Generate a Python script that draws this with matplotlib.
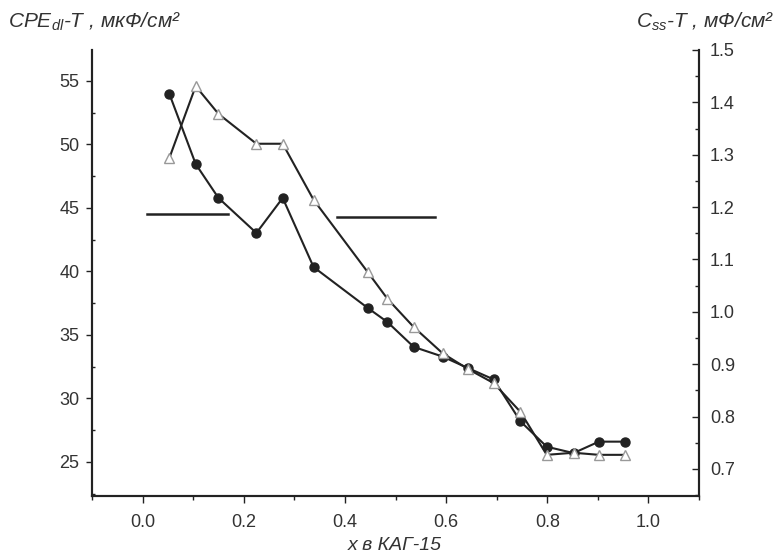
import numpy as np
import matplotlib
matplotlib.use("Agg")
import matplotlib.pyplot as plt
from matplotlib.ticker import MultipleLocator

plt.rcParams['font.family'] = ['Liberation Sans', 'DejaVu Sans']
plt.rcParams['mathtext.fontset'] = 'custom'
plt.rcParams['mathtext.rm'] = 'Liberation Sans'
plt.rcParams['mathtext.it'] = 'Liberation Sans:italic'

# x composition in KAG-15
x_vals = [0.053, 0.105, 0.150, 0.225, 0.277, 0.338, 0.445, 0.484, 0.536,
          0.593, 0.643, 0.694, 0.747, 0.799, 0.852, 0.902, 0.953]
# CPE_dl-T, mkF/cm2 (left axis, filled circles)
cpe_vals = [53.98, 48.46, 45.79, 43.03, 45.79, 40.35, 37.13, 36.02, 34.06,
            33.3, 32.4, 31.5, 28.2, 26.2, 25.7, 26.6, 26.6]
# C_ss-T, mF/cm2 (right axis, open triangles)
css_vals = [1.294, 1.431, 1.378, 1.321, 1.321, 1.214, 1.076, 1.025, 0.971,
            0.921, 0.891, 0.864, 0.809, 0.727, 0.731, 0.727, 0.727]

# guide lines pointing to each axis (x start, x end, y on left axis)
guide_left = (0.008, 0.168, 44.55)
guide_right = (0.384, 0.579, 44.3)

ink = '#222222'
txt = '#333333'

fig = plt.figure(figsize=(7.78, 5.6), dpi=100)
ax = fig.add_axes([92/778, 1-496/560, 607/778, 446/560])
ax2 = ax.twinx()

ax.plot(x_vals, cpe_vals, color=ink, lw=1.5, marker='o', ms=6.5,
        mfc=ink, mec=ink, zorder=3)
ax2.plot(x_vals, css_vals, color=ink, lw=1.5, marker='^', ms=6.5,
         mfc='white', mec='#999999', mew=1.0, zorder=4)

ax.plot(guide_left[:2], [guide_left[2]]*2, color=ink, lw=1.8)
ax.plot(guide_right[:2], [guide_right[2]]*2, color=ink, lw=1.8)

ax.set_xlim(-0.1, 1.1)
ax.set_ylim(22.32, 57.44)
ax2.set_ylim(0.6484, 1.5)

ax.xaxis.set_major_locator(MultipleLocator(0.2))
ax.xaxis.set_minor_locator(MultipleLocator(0.1))
ax.yaxis.set_major_locator(MultipleLocator(5))
ax.yaxis.set_minor_locator(MultipleLocator(2.5))
ax2.yaxis.set_major_locator(MultipleLocator(0.1))
ax2.yaxis.set_minor_locator(MultipleLocator(0.05))
ax.set_xticks([0.0, 0.2, 0.4, 0.6, 0.8, 1.0])
ax.set_xticklabels(['0.0', '0.2', '0.4', '0.6', '0.8', '1.0'])
ax.set_yticks([25, 30, 35, 40, 45, 50, 55])
ax2.set_yticks([0.7, 0.8, 0.9, 1.0, 1.1, 1.2, 1.3, 1.4, 1.5])

for a in (ax, ax2):
    a.spines['top'].set_visible(False)
    for s in a.spines.values():
        s.set_color(ink)
        s.set_linewidth(1.5)

ax.tick_params(axis='x', which='major', direction='out', length=5, width=1,
               pad=8, labelsize=13, colors=ink, labelcolor=txt)
ax.tick_params(axis='x', which='minor', direction='out', length=3, width=1, colors=ink)
ax.tick_params(axis='y', which='major', direction='out', length=4, width=1,
               pad=5, labelsize=13, colors=ink, labelcolor=txt)
ax.tick_params(axis='y', which='minor', direction='in', length=2, width=1, colors=ink)
ax2.tick_params(axis='y', which='major', direction='in', length=5, width=1,
                pad=8, labelsize=13, colors=ink, labelcolor=txt)
ax2.tick_params(axis='y', which='minor', direction='in', length=3, width=1, colors=ink)

fig.text(8/778, 1-22/560, r'CPE$_{\mathit{dl}}$-T , мкФ/см²', style='italic',
         fontsize=15, color=txt, ha='left', va='center')
fig.text(775/778, 1-22/560, r'C$_{\mathit{ss}}$-T , мФ/см²', style='italic',
         fontsize=15, color=txt, ha='right', va='center')
fig.text(395/778, 1-545/560, 'x в КАГ-15', style='italic',
         fontsize=14, color=txt, ha='center', va='center')

fig.savefig('out.png', dpi=100)
